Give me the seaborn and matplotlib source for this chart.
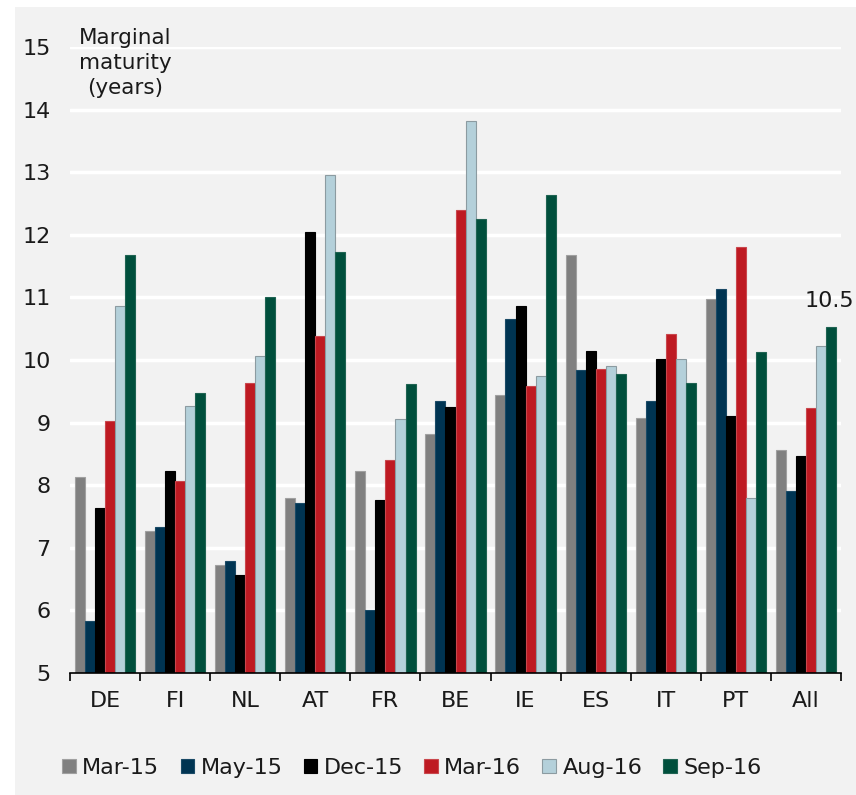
import matplotlib
matplotlib.use("Agg")
import matplotlib.pyplot as plt
from matplotlib.patches import Rectangle, Patch
from matplotlib.ticker import FixedLocator, NullFormatter
import seaborn as sns
import pandas as pd

countries = ["DE", "FI", "NL", "AT", "FR", "BE", "IE", "ES", "IT", "PT", "All"]
periods = ["Mar-15", "May-15", "Dec-15", "Mar-16", "Aug-16", "Sep-16"]
mar15 = [8.13, 7.27, 6.72, 7.79, 8.23, 8.81, 9.44, 11.67, 9.08, 10.97, 8.57]
may15 = [5.83, 7.34, 6.79, 7.72, 6.01, 9.35, 10.66, 9.84, 9.34, 11.13, 7.90]
dec15 = [7.64, 8.23, 6.56, 12.05, 7.77, 9.25, 10.86, 10.15, 10.01, 9.11, 8.47]
mar16 = [9.03, 8.06, 9.63, 10.38, 8.40, 12.39, 9.58, 9.85, 10.42, 11.80, 9.24]
aug16 = [10.87, 9.27, 10.07, 12.95, 9.06, 13.82, 9.74, 9.90, 10.01, 7.79, 10.22]
sep16 = [11.67, 9.47, 11.00, 11.73, 9.61, 12.26, 12.64, 9.77, 9.63, 10.12, 10.53]
colors = ["#808080", "#003452", "#000000", "#be1a22", "#b4d0da", "#004f3c"]
yticks = [5, 6, 7, 8, 9, 10, 11, 12, 13, 14, 15]

series = [mar15, may15, dec15, mar16, aug16, sep16]
rows = []
for p, vals in zip(periods, series):
    for c, v in zip(countries, vals):
        rows.append({"country": c, "period": p, "value": v})
df = pd.DataFrame(rows)

sns.set_theme(style="white")
plt.rcParams["font.family"] = ["DejaVu Sans"]

fig = plt.figure(figsize=(8.56, 7.95), dpi=100)
fig.patch.set_facecolor("white")
fig.patches.append(Rectangle((15 / 856, 0), 1 - 15 / 856, 1 - 7 / 795,
                             transform=fig.transFigure, facecolor="#f2f2f2",
                             edgecolor="none", zorder=-10))

ax = fig.add_axes([70 / 856, 1 - 673 / 795, (841 - 70) / 856, (673 - 47) / 795])
ax.set_facecolor("#f2f2f2")

sns.barplot(data=df, x="country", y="value", hue="period", order=countries,
            hue_order=periods, palette=colors, width=0.86, ax=ax,
            legend=False, linewidth=0, saturation=1, zorder=3)

edge_cols = ["#a0a0a0", "#1a4a66", "#000000", "#c9474d", "#8c9ba1", "#1f6352"]
for cont, ec in zip(ax.containers, edge_cols):
    for bar in cont:
        bar.set_edgecolor(ec)
        bar.set_linewidth(0.8)

ax.set_ylim(5, 15)
ax.set_xlim(-0.5, len(countries) - 0.5)
ax.set_yticks(yticks)
ax.set_yticklabels([str(t) for t in yticks])
ax.yaxis.grid(True, color="white", linewidth=2.5, zorder=0)
ax.set_axisbelow(True)
ax.xaxis.grid(False)

for s in ["top", "right", "left"]:
    ax.spines[s].set_visible(False)
ax.spines["bottom"].set_color("black")
ax.spines["bottom"].set_linewidth(1.2)
ax.spines["bottom"].set_zorder(5)

ax.tick_params(axis="y", left=False, length=0, pad=14, labelsize=16, labelcolor="#1a1a1a")
ax.tick_params(axis="x", which="major", bottom=False, length=0, pad=13, labelsize=16,
               labelcolor="#1a1a1a")
ax.xaxis.set_minor_locator(FixedLocator([i - 0.5 for i in range(len(countries) + 1)]))
ax.xaxis.set_minor_formatter(NullFormatter())
ax.tick_params(axis="x", which="minor", bottom=True, length=6, width=1.2, color="black",
               direction="out")
ax.set_xlabel("")
ax.set_ylabel("")

# annotation of last value
last_bar = ax.containers[5][len(countries) - 1]
ax.text(last_bar.get_x() + last_bar.get_width() / 2 - 0.03, sep16[-1] + 0.25,
        f"{sep16[-1]:.1f}", ha="center", va="bottom", fontsize=16, color="#1a1a1a")

fig.text(125 / 856, 1 - 63 / 795, "Marginal\nmaturity\n(years)", ha="center",
         va="center", fontsize=15.5, color="#1a1a1a", linespacing=1.3)

handles = [Patch(facecolor=c, edgecolor=ec, linewidth=0.8) for c, ec in zip(colors, edge_cols)]
fig.legend(handles, periods, loc="center", bbox_to_anchor=(412 / 856, 1 - 768 / 795),
           ncol=6, frameon=False, fontsize=16, handlelength=0.6, handleheight=0.6,
           handletextpad=0.3, columnspacing=0.95, labelcolor="#1a1a1a")

fig.savefig("out.png", dpi=100, facecolor=fig.get_facecolor())
